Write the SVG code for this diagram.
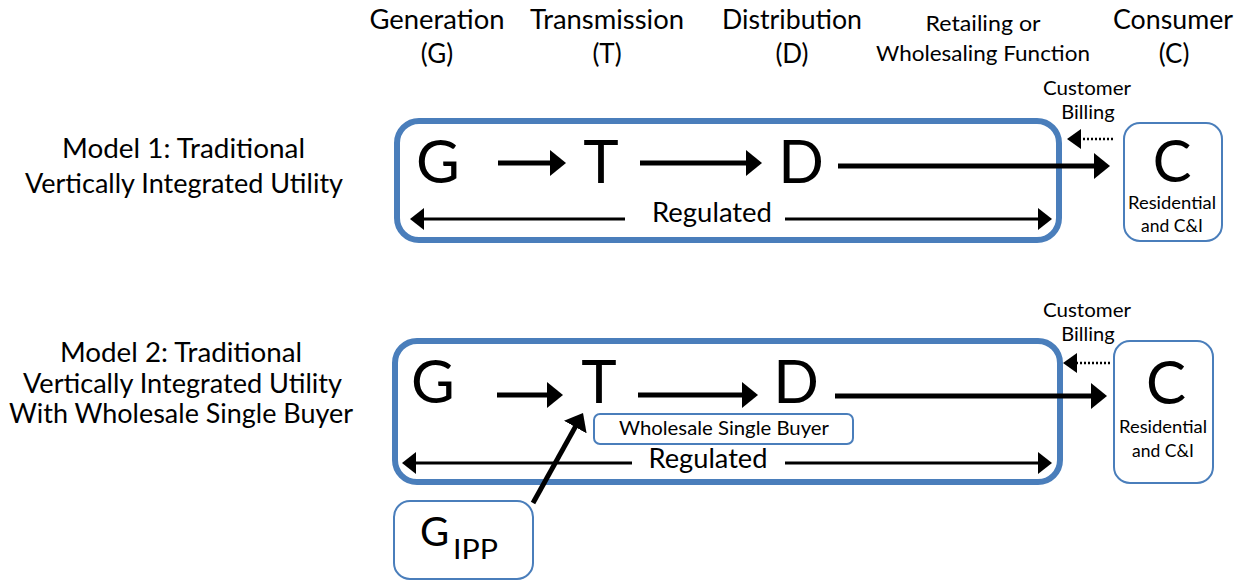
<svg xmlns="http://www.w3.org/2000/svg" width="1243" height="585" viewBox="0 0 1243 585">
<style>
  text { font-family: Lato, "Open Sans", "Liberation Sans", sans-serif; fill: #000; text-anchor: middle; }
  .hdr { font-size: 26px; }
  .hdrs { font-size: 22px; }
  .lbl { font-size: 26px; }
  .big { font-size: 60px; }
  .reg { font-size: 26px; }
  .bill { font-size: 20px; }
  .res { font-size: 17.5px; }
  .wsb { font-size: 19.5px; }
  .frame { fill: none; stroke: #4a7ebb; stroke-width: 6; }
  .node { fill: #fff; stroke: #4a7ebb; stroke-width: 2; }
  .thick { stroke: #000; stroke-width: 5; fill: none; }
  .thin { stroke: #000; stroke-width: 3; fill: none; }
  .dot { stroke: #000; stroke-width: 2.5; stroke-dasharray: 2 2; fill: none; }
</style>
<defs>
  <marker id="hBig" markerUnits="userSpaceOnUse" viewBox="0 0 16 26" markerWidth="16" markerHeight="26" refX="3" refY="13" orient="auto">
    <path d="M0,0 L16,13 L0,26 Z" fill="#000"/>
  </marker>
  <marker id="hThin" markerUnits="userSpaceOnUse" viewBox="0 0 14 22" markerWidth="14" markerHeight="22" refX="3" refY="11" orient="auto">
    <path d="M0,0 L14,11 L0,22 Z" fill="#000"/>
  </marker>
  <marker id="hDot" markerUnits="userSpaceOnUse" viewBox="0 0 14 20" markerWidth="14" markerHeight="20" refX="3" refY="10" orient="auto">
    <path d="M0,0 L14,10 L0,20 Z" fill="#000"/>
  </marker>
</defs>

<g id="headers">
  <text class="hdr" x="437" y="29" textLength="135" lengthAdjust="spacingAndGlyphs">Generation</text>
  <text class="hdr" x="437" y="63">(G)</text>
  <text class="hdr" x="607" y="29" textLength="154" lengthAdjust="spacingAndGlyphs">Transmission</text>
  <text class="hdr" x="607" y="63">(T)</text>
  <text class="hdr" x="792" y="29" textLength="140" lengthAdjust="spacingAndGlyphs">Distribution</text>
  <text class="hdr" x="792" y="63">(D)</text>
  <text class="hdrs" x="983" y="31" textLength="115" lengthAdjust="spacingAndGlyphs">Retailing or</text>
  <text class="hdrs" x="983" y="61" textLength="214" lengthAdjust="spacingAndGlyphs">Wholesaling Function</text>
  <text class="hdr" x="1173" y="29" textLength="120" lengthAdjust="spacingAndGlyphs">Consumer</text>
  <text class="hdr" x="1174" y="63">(C)</text>
</g>

<g id="model1-label">
  <text class="lbl" x="183.5" y="158" textLength="243" lengthAdjust="spacingAndGlyphs">Model 1: Traditional</text>
  <text class="lbl" x="184" y="193" textLength="318" lengthAdjust="spacingAndGlyphs">Vertically Integrated Utility</text>
</g>

<g id="model2-label">
  <text class="lbl" x="181" y="362" textLength="242" lengthAdjust="spacingAndGlyphs">Model 2: Traditional</text>
  <text class="lbl" x="182.5" y="393" textLength="319" lengthAdjust="spacingAndGlyphs">Vertically Integrated Utility</text>
  <text class="lbl" x="181" y="423" textLength="344" lengthAdjust="spacingAndGlyphs">With Wholesale Single Buyer</text>
</g>

<!-- Model 1 -->
<g id="m1-frame">
  <rect class="frame" x="397" y="121" width="662" height="119" rx="22"/>
</g>
<g id="m1-G"><text class="big" x="438" y="183">G</text></g>
<g id="m1-T"><text class="big" x="601" y="183">T</text></g>
<g id="m1-D"><text class="big" x="801" y="183">D</text></g>
<g id="m1-regulated"><text class="reg" x="712" y="222" textLength="120" lengthAdjust="spacingAndGlyphs">Regulated</text></g>
<g id="m1-billing">
  <text class="bill" x="1087" y="95" textLength="88" lengthAdjust="spacingAndGlyphs">Customer</text>
  <text class="bill" x="1088" y="119">Billing</text>
</g>
<g id="m1-C">
  <rect class="node" x="1124" y="123" width="98" height="118" rx="16"/>
  <text x="1172" y="182" style="font-size:58px">C</text>
  <text class="res" x="1172" y="209" textLength="88" lengthAdjust="spacingAndGlyphs">Residential</text>
  <text class="res" x="1172" y="232">and C&amp;I</text>
</g>

<!-- Model 2 -->
<g id="m2-frame">
  <rect class="frame" x="395" y="341" width="665" height="141" rx="22"/>
</g>
<g id="m2-G"><text class="big" x="433" y="403">G</text></g>
<g id="m2-T"><text class="big" x="599" y="403">T</text></g>
<g id="m2-D"><text class="big" x="796" y="403">D</text></g>
<g id="m2-wsb">
  <rect class="node" x="594" y="414" width="259" height="30" rx="6"/>
  <text class="wsb" x="724" y="435" textLength="210" lengthAdjust="spacingAndGlyphs">Wholesale Single Buyer</text>
</g>
<g id="m2-regulated"><text class="reg" x="708" y="468" textLength="119" lengthAdjust="spacingAndGlyphs">Regulated</text></g>
<g id="m2-billing">
  <text class="bill" x="1087" y="317" textLength="88" lengthAdjust="spacingAndGlyphs">Customer</text>
  <text class="bill" x="1088" y="341">Billing</text>
</g>
<g id="m2-C">
  <rect class="node" x="1114" y="341" width="99" height="142" rx="16"/>
  <text class="big" x="1166" y="404">C</text>
  <text class="res" x="1163" y="433" textLength="88" lengthAdjust="spacingAndGlyphs">Residential</text>
  <text class="res" x="1163" y="457">and C&amp;I</text>
</g>
<g id="m2-GIPP">
  <rect class="node" x="394" y="501" width="139" height="78" rx="16"/>
  <text x="420" y="546" style="font-size:40px;text-anchor:start">G</text>
  <text x="453" y="559" style="font-size:26px;text-anchor:start" textLength="45" lengthAdjust="spacingAndGlyphs">IPP</text>
</g>

<g id="connectors">
  <line class="thick" x1="498" y1="163" x2="553" y2="163" marker-end="url(#hBig)"/>
  <line class="thick" x1="640" y1="163" x2="749" y2="163" marker-end="url(#hBig)"/>
  <line class="thick" x1="838" y1="166" x2="1097" y2="166" marker-end="url(#hBig)"/>
  <line class="thin" x1="625" y1="219" x2="421" y2="219" marker-end="url(#hThin)"/>
  <line class="thin" x1="785" y1="219" x2="1041" y2="219" marker-end="url(#hThin)"/>
  <line class="dot" x1="1113" y1="139" x2="1078" y2="139" marker-end="url(#hDot)"/>

  <line class="thick" x1="497" y1="395" x2="550" y2="395" marker-end="url(#hBig)"/>
  <line class="thick" x1="638" y1="395" x2="745" y2="395" marker-end="url(#hBig)"/>
  <line class="thick" x1="835" y1="396" x2="1094" y2="396" marker-end="url(#hBig)"/>
  <line class="thin" x1="632" y1="463" x2="413" y2="463" marker-end="url(#hThin)"/>
  <line class="thin" x1="785" y1="463" x2="1041" y2="463" marker-end="url(#hThin)"/>
  <line class="dot" x1="1110" y1="363" x2="1074" y2="363" marker-end="url(#hDot)"/>
  <line class="thick" x1="533" y1="503" x2="576.7" y2="424.4" marker-end="url(#hBig)"/>
</g>
</svg>
